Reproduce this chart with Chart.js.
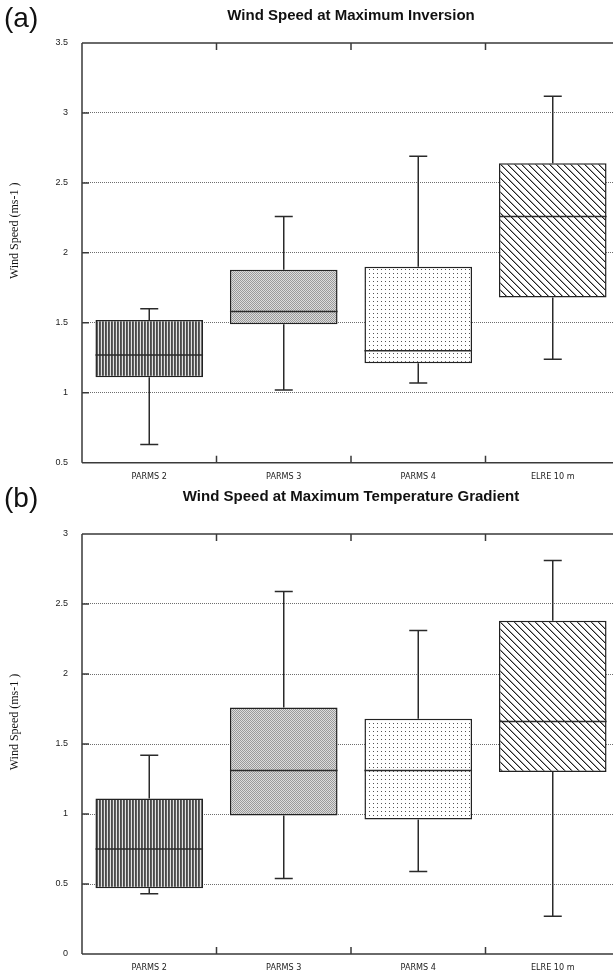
<!DOCTYPE html>
<html>
<head>
<meta charset="utf-8">
<script src="https://cdn.jsdelivr.net/npm/chart.js@4"></script>
<style>
    body { margin: 0; background: #fff; width: 613px; height: 979px; overflow: hidden; }
    #wrap { position: relative; width: 620px; height: 979px; }
    canvas { position: absolute; left: 0; }
    .panel { position: absolute; left: 4px; font: 28px "Liberation Sans", Arial, sans-serif; line-height: 1; color: #111; }
</style>
</head>
<body>
<div id="wrap">
    <canvas id="chartA" width="620" height="486" style="top:0"></canvas>
    <canvas id="chartB" width="620" height="493" style="top:486px"></canvas>
    <div class="panel" style="top:4px">(a)</div>
    <div class="panel" style="top:484px">(b)</div>
</div>
<script>
// categorias e valores
const categories = ['PARMS 2', 'PARMS 3', 'PARMS 4', 'ELRE 10 m'];

// (a) velocidade do vento na inversão máxima
const invMin    = [0.63, 1.02, 1.07, 1.24];
const invQ1     = [1.11, 1.49, 1.21, 1.68];
const invMedian = [1.27, 1.58, 1.30, 2.26];
const invQ3     = [1.52, 1.88, 1.90, 2.64];
const invMax    = [1.60, 2.26, 2.69, 3.12];
const invRange  = [0.5, 3.5];

// (b) velocidade do vento no gradiente máximo de temperatura
const gradMin    = [0.43, 0.54, 0.59, 0.27];
const gradQ1     = [0.47, 0.99, 0.96, 1.30];
const gradMedian = [0.75, 1.31, 1.31, 1.66];
const gradQ3     = [1.11, 1.76, 1.68, 2.38];
const gradMax    = [1.42, 2.59, 2.31, 2.81];
const gradRange  = [0, 3];

const yStep = 0.5;
const yTitle = 'Wind Speed (ms-1 )';

// texturas das caixas
const tile = (w, h, draw) => {
    const c = document.createElement('canvas');
    c.width = w; c.height = h;
    const t = c.getContext('2d');
    draw(t);
    return c;
};

const makeFills = (ctx) => {
    const stripes = tile(3, 1, t => {
        t.fillStyle = '#4a4a4a'; t.fillRect(0, 0, 1, 1);
        t.fillStyle = '#606060'; t.fillRect(1, 0, 1, 1);
        t.fillStyle = '#e2e2e2'; t.fillRect(2, 0, 1, 1);
    });
    const fine = tile(2, 2, t => {
        t.fillStyle = '#dcdcdc'; t.fillRect(0, 0, 2, 2);
        t.fillStyle = '#9a9a9a'; t.fillRect(0, 0, 1, 1); t.fillRect(1, 1, 1, 1);
    });
    const dots = tile(4, 4, t => {
        t.fillStyle = '#ffffff'; t.fillRect(0, 0, 4, 4);
        t.fillStyle = '#555555'; t.fillRect(1, 1, 1, 1);
    });
    const hatch = tile(7, 7, t => {
        t.fillStyle = '#ffffff'; t.fillRect(0, 0, 7, 7);
        for (let i = 0; i < 7; i++) {
            t.fillStyle = '#222222'; t.fillRect(i, i, 1, 1);
            t.fillStyle = '#a0a0a0'; t.fillRect((i + 1) % 7, i, 1, 1);
        }
    });
    return [stripes, fine, dots, hatch].map(c => ctx.createPattern(c, 'repeat'));
};

function makeChart(id, cfg) {
    const canvas = document.getElementById(id);
    const ctx = canvas.getContext('2d');

    // bigodes, mediana, moldura e ticks internos
    const boxPlugin = {
        id: 'boxFrame',
        afterDatasetsDraw(chart) {
            const { ctx, chartArea: a, scales: { x, y } } = chart;
            const bars = chart.getDatasetMeta(0).data;
            ctx.save();
            ctx.strokeStyle = '#2a2a2a';
            ctx.lineWidth = 1.5;
            ctx.beginPath();
            bars.forEach((bar, i) => {
                const yMin = y.getPixelForValue(cfg.min[i]);
                const yMax = y.getPixelForValue(cfg.max[i]);
                const yMed = y.getPixelForValue(cfg.median[i]);
                ctx.moveTo(bar.x, y.getPixelForValue(cfg.q3[i]));
                ctx.lineTo(bar.x, yMax);
                ctx.moveTo(bar.x, y.getPixelForValue(cfg.q1[i]));
                ctx.lineTo(bar.x, yMin);
                ctx.moveTo(bar.x - 9, yMax); ctx.lineTo(bar.x + 9, yMax);
                ctx.moveTo(bar.x - 9, yMin); ctx.lineTo(bar.x + 9, yMin);
                ctx.moveTo(bar.x - bar.width / 2, yMed); ctx.lineTo(bar.x + bar.width / 2, yMed);
            });
            ctx.stroke();

            // eixos
            ctx.strokeStyle = '#3a3a3a';
            ctx.beginPath();
            ctx.moveTo(a.left, a.top); ctx.lineTo(a.right, a.top);
            ctx.moveTo(a.left, a.top); ctx.lineTo(a.left, a.bottom);
            ctx.moveTo(a.left, a.bottom); ctx.lineTo(a.right, a.bottom);
            y.ticks.forEach(t => {
                if (t.value > y.min && t.value < y.max) {
                    const py = y.getPixelForValue(t.value);
                    ctx.moveTo(a.left, py); ctx.lineTo(a.left + 7, py);
                }
            });
            for (let i = 1; i < categories.length; i++) {
                const px = (x.getPixelForValue(i - 1) + x.getPixelForValue(i)) / 2;
                ctx.moveTo(px, a.top); ctx.lineTo(px, a.top + 7);
                ctx.moveTo(px, a.bottom); ctx.lineTo(px, a.bottom - 7);
            }
            ctx.stroke();

            // título do eixo y
            ctx.translate(15, (a.top + a.bottom) / 2 - 22);
            ctx.rotate(-Math.PI / 2);
            ctx.fillStyle = '#111';
            ctx.font = '12px "Liberation Serif", "Times New Roman", serif';
            ctx.textAlign = 'center';
            ctx.textBaseline = 'middle';
            ctx.fillText(yTitle, 0, 0);
            ctx.restore();
        }
    };

    return new Chart(ctx, {
        type: 'bar',
        data: {
            labels: categories,
            datasets: [{
                data: categories.map((c, i) => [cfg.q1[i], cfg.q3[i]]),
                backgroundColor: makeFills(ctx),
                borderColor: '#222',
                borderWidth: 1.5,
                borderSkipped: false,
                barPercentage: 0.8,
                categoryPercentage: 1
            }]
        },
        options: {
            responsive: false,
            animation: false,
            layout: { padding: 0 },
            plugins: {
                legend: { display: false },
                tooltip: { enabled: false },
                title: {
                    display: true,
                    text: cfg.title,
                    fullSize: false,
                    color: '#111',
                    font: { family: '"Liberation Sans", Arial, sans-serif', size: 15, weight: 'bold' },
                    padding: cfg.titlePad
                }
            },
            scales: {
                x: {
                    offset: true,
                    grid: { display: false, drawTicks: false },
                    border: { display: false },
                    ticks: {
                        color: '#222',
                        padding: cfg.xPad,
                        font: { family: '"Liberation Sans Narrow", "DejaVu Sans Condensed", Arial, sans-serif', size: 9 }
                    },
                    afterFit: (s) => { s.height = cfg.xHeight; }
                },
                y: {
                    min: cfg.range[0],
                    max: cfg.range[1],
                    ticks: {
                        stepSize: yStep,
                        color: '#222',
                        padding: 14,
                        font: { family: '"Liberation Sans", Arial, sans-serif', size: 9 },
                        callback: (v) => `${v}`
                    },
                    grid: {
                        drawTicks: false,
                        lineWidth: 1,
                        color: (c) => (c.tick.value > cfg.range[0] && c.tick.value < cfg.range[1]) ? '#6e6e6e' : 'rgba(0,0,0,0)'
                    },
                    border: { display: false, dash: [1, 1] },
                    afterFit: (s) => { s.width = 82; }
                }
            }
        },
        plugins: [boxPlugin]
    });
}

makeChart('chartA', {
    title: 'Wind Speed at Maximum Inversion',
    min: invMin, q1: invQ1, median: invMedian, q3: invQ3, max: invMax,
    range: invRange,
    titlePad: { top: 7, bottom: 18 },
    xPad: 9,
    xHeight: 23.3
});

makeChart('chartB', {
    title: 'Wind Speed at Maximum Temperature Gradient',
    min: gradMin, q1: gradQ1, median: gradMedian, q3: gradQ3, max: gradMax,
    range: gradRange,
    titlePad: { top: 2, bottom: 28 },
    xPad: 8,
    xHeight: 25
});
</script>
</body>
</html>
